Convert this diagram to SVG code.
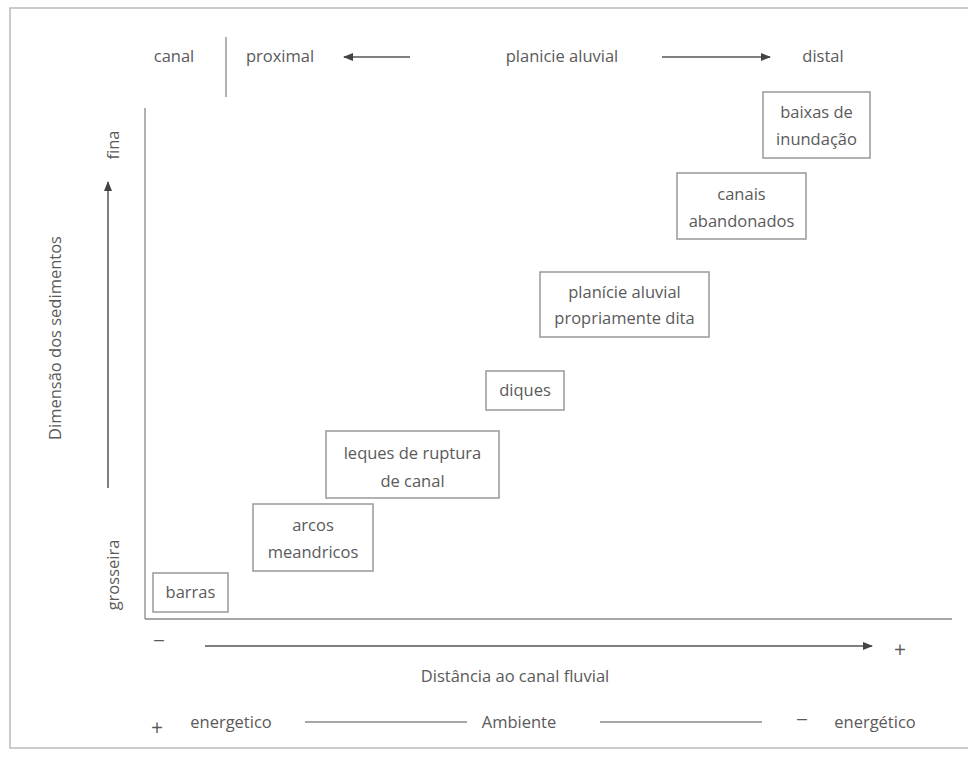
<svg xmlns="http://www.w3.org/2000/svg" width="968" height="762" viewBox="0 0 968 762">
<defs>
<style>
text{font-family:"Open Sans","DejaVu Sans",sans-serif;font-size:16.5px;fill:#5a5a5a}
.c{text-anchor:middle}
.s{font-size:21px}
.box{fill:#fff;stroke:#999;stroke-width:1.5}
.ln{stroke:#555;stroke-width:1.5;fill:none}
.lt{stroke:#888;stroke-width:1.3;fill:none}
</style>
<marker id="ah" viewBox="0 0 10 10" refX="9" refY="5" markerWidth="10" markerHeight="10" markerUnits="userSpaceOnUse" orient="auto">
<path d="M0,1 L10,5 L0,9 z" fill="#444"/>
</marker>
</defs>
<rect x="0" y="0" width="968" height="762" fill="#fff"/>
<rect x="10" y="8" width="975" height="740" fill="none" stroke="#bbb" stroke-width="1.5"/>

<g id="header">
<text x="174" y="62" class="c">canal</text>
<line x1="226" y1="37" x2="226" y2="97" class="lt"/>
<text x="280" y="62" class="c">proximal</text>
<text x="562" y="62" class="c">planicie aluvial</text>
<text x="823" y="62" class="c">distal</text>
</g>

<g id="axes">
<line x1="145" y1="108" x2="145" y2="619" class="lt"/>
<line x1="145" y1="619" x2="952" y2="619" class="lt"/>
<text transform="translate(119,145) rotate(-90)" class="c">fina</text>
<text transform="translate(119,575) rotate(-90)" class="c">grosseira</text>
<text transform="translate(61,338) rotate(-90)" class="c">Dimensão dos sedimentos</text>
<text x="159" y="648" class="c s">−</text>
<text x="900" y="657" class="c s">+</text>
<text x="515" y="682" class="c">Distância ao canal fluvial</text>
<text x="157" y="735" class="c s">+</text>
<text x="231" y="728" class="c">energetico</text>
<text x="519" y="728" class="c">Ambiente</text>
<text x="802" y="727" class="c s">−</text>
<text x="875" y="728" class="c">energético</text>
</g>

<g id="connectors">
<line x1="410" y1="57" x2="344" y2="57" class="ln" marker-end="url(#ah)"/>
<line x1="662" y1="57" x2="770" y2="57" class="ln" marker-end="url(#ah)"/>
<line x1="108" y1="488" x2="108" y2="182" class="ln" marker-end="url(#ah)"/>
<line x1="205" y1="646" x2="872" y2="646" class="ln" marker-end="url(#ah)"/>
<line x1="305" y1="722" x2="467" y2="722" class="lt"/>
<line x1="600" y1="722" x2="762" y2="722" class="lt"/>
</g>

<g id="barras">
<rect x="153" y="573" width="75" height="39" class="box"/>
<text x="190.5" y="598" class="c">barras</text>
</g>
<g id="arcos">
<rect x="253" y="504" width="120" height="67" class="box"/>
<text x="313" y="531" class="c">arcos</text>
<text x="313" y="558" class="c">meandricos</text>
</g>
<g id="leques">
<rect x="326" y="431" width="173" height="67" class="box"/>
<text x="412.5" y="459" class="c">leques de ruptura</text>
<text x="412.5" y="487" class="c">de canal</text>
</g>
<g id="diques">
<rect x="486" y="371" width="78" height="39" class="box"/>
<text x="525" y="396" class="c">diques</text>
</g>
<g id="planicie">
<rect x="540" y="272" width="169" height="65" class="box"/>
<text x="624.5" y="298" class="c">planície aluvial</text>
<text x="624.5" y="324" class="c">propriamente dita</text>
</g>
<g id="canais">
<rect x="677" y="173" width="129" height="66" class="box"/>
<text x="741.5" y="200" class="c">canais</text>
<text x="741.5" y="227" class="c">abandonados</text>
</g>
<g id="baixas">
<rect x="763" y="92" width="107" height="66" class="box"/>
<text x="816.5" y="118" class="c">baixas de</text>
<text x="816.5" y="145" class="c">inundação</text>
</g>
</svg>
